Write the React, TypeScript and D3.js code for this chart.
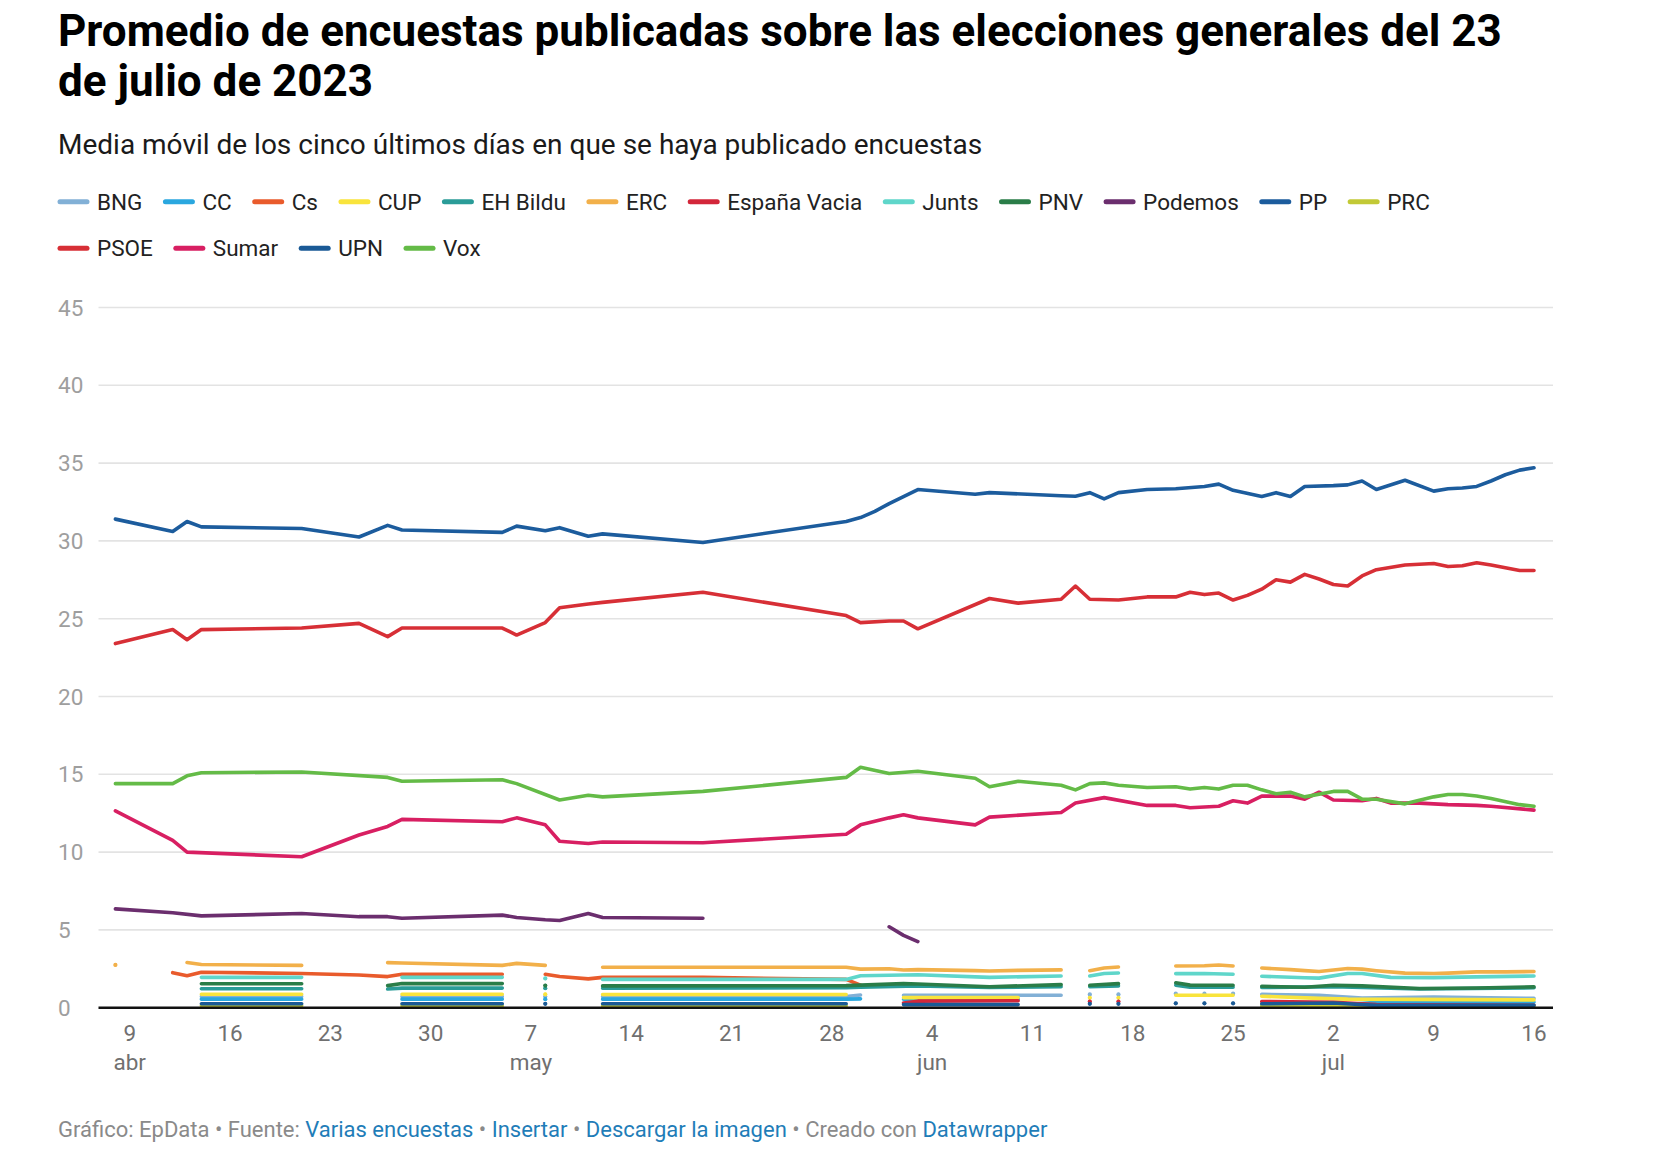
import React, { useEffect, useRef } from 'react';
import * as d3 from 'd3';

const W = 1660;
const H = 1154;

const titleLines = [
  'Promedio de encuestas publicadas sobre las elecciones generales del 23',
  'de julio de 2023',
];
const subtitle = 'Media móvil de los cinco últimos días en que se haya publicado encuestas';

const parties = [
  'BNG', 'CC', 'Cs', 'CUP', 'EH Bildu', 'ERC', 'España Vacia', 'Junts',
  'PNV', 'Podemos', 'PP', 'PRC', 'PSOE', 'Sumar', 'UPN', 'Vox',
];

const partyColors: Record<string, string> = {
  BNG: '#82b0d6',
  CC: '#2aa7df',
  Cs: '#e95b2c',
  CUP: '#f9e43c',
  'EH Bildu': '#2a9c98',
  ERC: '#f2b04a',
  'España Vacia': '#d3263a',
  Junts: '#5fd6ca',
  PNV: '#2a7d48',
  Podemos: '#6b2e6e',
  PP: '#1c5c9d',
  PRC: '#c2c936',
  PSOE: '#d72f36',
  Sumar: '#d81f62',
  UPN: '#1a5a96',
  Vox: '#64bb47',
};

type Pt = [string, number | null];

// values per party, [MM-DD, %], null = hueco
const pp: Pt[] = [
  ['04-08', 31.4], ['04-12', 30.6], ['04-13', 31.25], ['04-14', 30.9], ['04-21', 30.8],
  ['04-25', 30.25], ['04-27', 31.0], ['04-28', 30.7], ['05-05', 30.55], ['05-06', 30.95],
  ['05-08', 30.65], ['05-09', 30.85], ['05-11', 30.3], ['05-12', 30.45], ['05-19', 29.9],
  ['05-29', 31.25], ['05-30', 31.5], ['05-31', 31.9], ['06-01', 32.4], ['06-02', 32.85],
  ['06-03', 33.3], ['06-07', 33.0], ['06-08', 33.1], ['06-13', 32.9], ['06-14', 32.87],
  ['06-15', 33.1], ['06-16', 32.7], ['06-17', 33.1], ['06-19', 33.3], ['06-21', 33.35],
  ['06-23', 33.5], ['06-24', 33.65], ['06-25', 33.25], ['06-27', 32.85], ['06-28', 33.1],
  ['06-29', 32.85], ['06-30', 33.5], ['07-02', 33.55], ['07-03', 33.6], ['07-04', 33.85],
  ['07-05', 33.3], ['07-07', 33.9], ['07-09', 33.2], ['07-10', 33.35], ['07-11', 33.4],
  ['07-12', 33.5], ['07-13', 33.85], ['07-14', 34.25], ['07-15', 34.55], ['07-16', 34.7],
];

const psoe: Pt[] = [
  ['04-08', 23.4], ['04-12', 24.3], ['04-13', 23.65], ['04-14', 24.3], ['04-21', 24.4],
  ['04-25', 24.7], ['04-27', 23.85], ['04-28', 24.4], ['05-05', 24.4], ['05-06', 23.95],
  ['05-08', 24.75], ['05-09', 25.7], ['05-11', 25.95], ['05-12', 26.05], ['05-19', 26.7],
  ['05-29', 25.2], ['05-30', 24.75], ['06-01', 24.85], ['06-02', 24.85], ['06-03', 24.35],
  ['06-08', 26.3], ['06-10', 26.0], ['06-13', 26.25], ['06-14', 27.1], ['06-15', 26.25],
  ['06-17', 26.2], ['06-19', 26.4], ['06-21', 26.4], ['06-22', 26.7], ['06-23', 26.55],
  ['06-24', 26.65], ['06-25', 26.2], ['06-26', 26.5], ['06-27', 26.9], ['06-28', 27.5],
  ['06-29', 27.35], ['06-30', 27.85], ['07-01', 27.55], ['07-02', 27.2], ['07-03', 27.1],
  ['07-04', 27.75], ['07-05', 28.15], ['07-07', 28.45], ['07-09', 28.55], ['07-10', 28.35],
  ['07-11', 28.4], ['07-12', 28.6], ['07-13', 28.45], ['07-15', 28.1], ['07-16', 28.1],
];

const vox: Pt[] = [
  ['04-08', 14.4], ['04-12', 14.4], ['04-13', 14.9], ['04-14', 15.1], ['04-21', 15.15],
  ['04-27', 14.8], ['04-28', 14.55], ['05-05', 14.65], ['05-06', 14.4], ['05-09', 13.35],
  ['05-11', 13.65], ['05-12', 13.55], ['05-19', 13.9], ['05-29', 14.8], ['05-30', 15.45],
  ['06-01', 15.05], ['06-03', 15.2], ['06-07', 14.75], ['06-08', 14.2], ['06-10', 14.55],
  ['06-13', 14.3], ['06-14', 14.0], ['06-15', 14.4], ['06-16', 14.45], ['06-17', 14.3],
  ['06-19', 14.15], ['06-21', 14.2], ['06-22', 14.05], ['06-23', 14.15], ['06-24', 14.05],
  ['06-25', 14.3], ['06-26', 14.3], ['06-27', 14.0], ['06-28', 13.75], ['06-29', 13.85],
  ['06-30', 13.55], ['07-02', 13.9], ['07-03', 13.9], ['07-04', 13.4], ['07-05', 13.4],
  ['07-07', 13.1], ['07-09', 13.55], ['07-10', 13.7], ['07-11', 13.7], ['07-12', 13.6],
  ['07-13', 13.45], ['07-15', 13.05], ['07-16', 12.95],
];

const sumar: Pt[] = [
  ['04-08', 12.65], ['04-12', 10.75], ['04-13', 10.0], ['04-21', 9.7], ['04-25', 11.1],
  ['04-27', 11.65], ['04-28', 12.1], ['05-05', 11.95], ['05-06', 12.2], ['05-08', 11.75],
  ['05-09', 10.7], ['05-11', 10.55], ['05-12', 10.65], ['05-19', 10.6], ['05-29', 11.15],
  ['05-30', 11.75], ['06-01', 12.2], ['06-02', 12.4], ['06-03', 12.2], ['06-07', 11.75],
  ['06-08', 12.25], ['06-13', 12.55], ['06-14', 13.15], ['06-16', 13.5], ['06-19', 13.0],
  ['06-21', 13.0], ['06-22', 12.85], ['06-24', 12.95], ['06-25', 13.3], ['06-26', 13.15],
  ['06-27', 13.6], ['06-29', 13.6], ['06-30', 13.4], ['07-01', 13.85], ['07-02', 13.35],
  ['07-04', 13.3], ['07-05', 13.45], ['07-06', 13.15], ['07-08', 13.15], ['07-10', 13.05],
  ['07-12', 13.0], ['07-13', 12.95], ['07-16', 12.7],
];

const podemos: Pt[] = [
  ['04-08', 6.35], ['04-12', 6.1], ['04-14', 5.9], ['04-21', 6.05], ['04-25', 5.85],
  ['04-27', 5.85], ['04-28', 5.75], ['05-05', 5.95], ['05-06', 5.8], ['05-08', 5.65],
  ['05-09', 5.6], ['05-11', 6.05], ['05-12', 5.8], ['05-19', 5.75], ['05-29', null],
  ['06-01', 5.2], ['06-02', 4.65], ['06-03', 4.25],
];

const erc: Pt[] = [
  ['04-08', 2.75], ['04-12', null], ['04-13', 2.9], ['04-14', 2.78], ['04-21', 2.72],
  ['04-25', null], ['04-27', 2.9], ['04-28', 2.87], ['05-05', 2.72], ['05-06', 2.85],
  ['05-08', 2.72], ['05-09', null], ['05-12', 2.6], ['05-19', 2.6], ['05-29', 2.6],
  ['05-30', 2.48], ['06-01', 2.5], ['06-02', 2.42], ['06-03', 2.45], ['06-07', 2.38],
  ['06-08', 2.36], ['06-10', 2.4], ['06-13', 2.43], ['06-14', null], ['06-15', 2.38],
  ['06-16', 2.55], ['06-17', 2.62], ['06-19', null], ['06-21', 2.68], ['06-23', 2.7],
  ['06-24', 2.74], ['06-25', 2.68], ['06-26', null], ['06-27', 2.55], ['06-29', 2.45],
  ['06-30', 2.38], ['07-01', 2.33], ['07-02', 2.42], ['07-03', 2.52], ['07-04', 2.48],
  ['07-05', 2.38], ['07-07', 2.22], ['07-09', 2.2], ['07-10', 2.22], ['07-12', 2.3],
  ['07-14', 2.3], ['07-16', 2.33],
];

const cs: Pt[] = [
  ['04-12', 2.25], ['04-13', 2.05], ['04-14', 2.28], ['04-21', 2.2], ['04-25', 2.1],
  ['04-27', 2.0], ['04-28', 2.15], ['05-05', 2.15], ['05-06', null], ['05-08', 2.15],
  ['05-09', 2.0], ['05-11', 1.85], ['05-12', 1.95], ['05-19', 1.95], ['05-29', 1.82],
  ['05-30', 1.45],
];

const junts: Pt[] = [
  ['04-14', 1.95], ['04-21', 1.95], ['04-27', null], ['04-28', 1.95], ['05-05', 1.95],
  ['05-06', null], ['05-08', 1.88], ['05-09', null], ['05-12', 1.82], ['05-29', 1.82],
  ['05-30', 2.05], ['06-03', 2.12], ['06-08', 1.95], ['06-13', 2.04], ['06-14', null],
  ['06-15', 2.04], ['06-16', 2.2], ['06-17', 2.23], ['06-19', null], ['06-21', 2.19],
  ['06-23', 2.2], ['06-25', 2.15], ['06-26', null], ['06-27', 2.02], ['06-30', 1.92],
  ['07-01', 1.9], ['07-03', 2.2], ['07-04', 2.2], ['07-06', 1.95], ['07-09', 1.93],
  ['07-12', 1.98], ['07-16', 2.04],
];

const pnv: Pt[] = [
  ['04-14', 1.54], ['04-21', 1.54], ['04-25', null], ['04-27', 1.42], ['04-28', 1.55],
  ['05-05', 1.55], ['05-06', null], ['05-08', 1.42], ['05-09', null], ['05-12', 1.4],
  ['05-29', 1.42], ['05-30', 1.45], ['06-02', 1.55], ['06-03', 1.52], ['06-08', 1.35],
  ['06-13', 1.48], ['06-14', null], ['06-15', 1.44], ['06-17', 1.55], ['06-19', null],
  ['06-21', 1.6], ['06-22', 1.45], ['06-25', 1.44], ['06-26', null], ['06-27', 1.38],
  ['06-30', 1.31], ['07-02', 1.44], ['07-04', 1.4], ['07-08', 1.23], ['07-12', 1.27],
  ['07-16', 1.34],
];

const ehBildu: Pt[] = [
  ['04-14', 1.22], ['04-21', 1.22], ['04-25', null], ['04-27', 1.2], ['04-28', 1.26],
  ['05-05', 1.26], ['05-06', null], ['05-08', 1.25], ['05-09', null], ['05-12', 1.25],
  ['05-29', 1.28], ['05-30', 1.32], ['06-03', 1.4], ['06-08', 1.3], ['06-13', 1.35],
  ['06-14', null], ['06-15', 1.35], ['06-17', 1.4], ['06-19', null], ['06-21', 1.45],
  ['06-22', 1.32], ['06-25', 1.32], ['06-26', null], ['06-27', 1.3], ['07-02', 1.35],
  ['07-08', 1.2], ['07-16', 1.28],
];

const cup: Pt[] = [
  ['04-14', 0.86], ['04-21', 0.86], ['04-25', null], ['04-28', 0.86], ['05-05', 0.86],
  ['05-06', null], ['05-08', 0.86], ['05-09', null], ['05-12', 0.85], ['05-29', 0.85],
  ['05-30', null], ['06-02', 0.65], ['06-10', 0.65], ['06-13', null], ['06-15', 0.64],
  ['06-16', null], ['06-17', 0.64], ['06-19', null], ['06-21', 0.8], ['06-25', 0.8],
  ['06-26', null], ['06-27', 0.74], ['07-01', 0.6], ['07-03', 0.55], ['07-16', 0.5],
];

const bng: Pt[] = [
  ['04-14', 0.72], ['04-21', 0.72], ['04-25', null], ['04-28', 0.72], ['05-05', 0.72],
  ['05-06', null], ['05-08', 0.72], ['05-09', null], ['05-12', 0.72], ['05-29', 0.72],
  ['05-30', 0.82], ['05-31', null], ['06-02', 0.8], ['06-13', 0.8], ['06-14', null],
  ['06-15', 0.85], ['06-16', null], ['06-17', 0.85], ['06-19', null], ['06-21', 0.9],
  ['06-22', null], ['06-23', 0.9], ['06-24', null], ['06-25', 0.9], ['06-26', null],
  ['06-27', 0.86], ['07-01', 0.8], ['07-04', 0.62], ['07-09', 0.68], ['07-16', 0.6],
];

const cc: Pt[] = [
  ['04-14', 0.55], ['04-21', 0.55], ['04-25', null], ['04-28', 0.55], ['05-05', 0.55],
  ['05-06', null], ['05-08', 0.55], ['05-09', null], ['05-12', 0.55], ['05-29', 0.55],
  ['05-30', 0.57], ['05-31', null], ['06-02', 0.55], ['06-10', 0.55], ['06-13', null],
  ['06-27', 0.15], ['07-03', 0.2], ['07-05', 0.35], ['07-16', 0.35],
];

const espanaVacia: Pt[] = [
  ['06-02', 0.3], ['06-03', 0.42], ['06-10', 0.45], ['06-13', null], ['06-15', 0.4],
  ['06-16', null], ['06-17', 0.4], ['06-19', null], ['06-27', 0.4], ['07-02', 0.35],
  ['07-05', 0.2], ['07-16', 0.15],
];

const upn: Pt[] = [
  ['04-14', 0.25], ['04-21', 0.25], ['04-25', null], ['04-28', 0.25], ['05-05', 0.25],
  ['05-06', null], ['05-08', 0.25], ['05-09', null], ['05-12', 0.25], ['05-29', 0.25],
  ['05-30', null], ['06-02', 0.2], ['06-10', 0.2], ['06-13', null], ['06-15', 0.25],
  ['06-16', null], ['06-17', 0.25], ['06-19', null], ['06-21', 0.28], ['06-22', null],
  ['06-23', 0.28], ['06-24', null], ['06-25', 0.28], ['06-26', null], ['06-27', 0.25],
  ['07-02', 0.3], ['07-05', 0.15], ['07-16', 0.15],
];

const prc: Pt[] = [
  ['04-14', 0.12], ['04-21', 0.12], ['04-25', null], ['04-28', 0.12], ['05-05', 0.12],
  ['05-06', null], ['05-12', 0.12], ['05-29', 0.12], ['05-30', null], ['06-27', 0.1],
  ['07-16', 0.1],
];

const seriesByParty: Record<string, Pt[]> = {
  BNG: bng, CC: cc, Cs: cs, CUP: cup, 'EH Bildu': ehBildu, ERC: erc,
  'España Vacia': espanaVacia, Junts: junts, PNV: pnv, Podemos: podemos, PP: pp,
  PRC: prc, PSOE: psoe, Sumar: sumar, UPN: upn, Vox: vox,
};

const yTicks = [0, 5, 10, 15, 20, 25, 30, 35, 40, 45];
const xTicks = ['04-09', '04-16', '04-23', '04-30', '05-07', '05-14', '05-21', '05-28',
  '06-04', '06-11', '06-18', '06-25', '07-02', '07-09', '07-16'];
const monthTicks: [string, string][] = [['04-09', 'abr'], ['05-07', 'may'], ['06-04', 'jun'], ['07-02', 'jul']];

const footer: [string, boolean][] = [
  ['Gráfico: EpData • Fuente: ', false],
  ['Varias encuestas', true],
  [' • ', false],
  ['Insertar', true],
  [' • ', false],
  ['Descargar la imagen', true],
  [' • Creado con ', false],
  ['Datawrapper', true],
];

const parseDay = d3.timeParse('%Y-%m-%d');
const dt = (s: string) => parseDay('2023-' + s) as Date;

const App: React.FC = () => {
  const svgRef = useRef<SVGSVGElement>(null);

  useEffect(() => {
    if (!svgRef.current) return;
    const svg = d3.select(svgRef.current);
    svg.selectAll('*').remove();
    const font = 'Roboto, "Open Sans", sans-serif';

    // header
    svg.append('g').selectAll('text')
      .data(titleLines)
      .enter().append('text')
      .attr('x', 58)
      .attr('y', (_d, i) => 45.5 + i * 50.5)
      .attr('font-family', font)
      .attr('font-weight', 700)
      .attr('font-size', 44)
      .attr('fill', '#000')
      .text(d => d);

    svg.append('text')
      .attr('x', 58)
      .attr('y', 154)
      .attr('font-family', font)
      .attr('font-size', 28)
      .attr('fill', '#1a1a1a')
      .text(subtitle);

    // legend
    const legend = svg.append('g');
    let lx = 58;
    let row = 0;
    parties.forEach((p, i) => {
      if (i === 12) { lx = 58; row = 1; }
      const cy = 201.7 + row * 46.6;
      legend.append('line')
        .attr('x1', lx + 2).attr('x2', lx + 29)
        .attr('y1', cy).attr('y2', cy)
        .attr('stroke', partyColors[p])
        .attr('stroke-width', 5)
        .attr('stroke-linecap', 'round');
      const t = legend.append('text')
        .attr('x', lx + 39)
        .attr('y', cy + 8)
        .attr('font-family', font)
        .attr('font-size', 22.5)
        .attr('fill', '#222')
        .text(p);
      const tw = (t.node() as SVGTextElement).getComputedTextLength();
      lx = lx + 39 + tw + 21;
    });

    // scales
    const x = d3.scaleTime()
      .domain([dt('04-08'), dt('07-16')])
      .range([115.4, 1534]);
    const y = d3.scaleLinear().domain([0, 45]).range([1007.7, 307.5]);
    const gridX0 = 98.5;
    const gridX1 = 1553;

    const grid = svg.append('g');
    grid.selectAll('line')
      .data(yTicks.filter(t => t > 0))
      .enter().append('line')
      .attr('x1', gridX0).attr('x2', gridX1)
      .attr('y1', d => y(d)).attr('y2', d => y(d))
      .attr('stroke', '#e3e3e3')
      .attr('stroke-width', 1.6);

    grid.selectAll('text')
      .data(yTicks)
      .enter().append('text')
      .attr('x', 58)
      .attr('y', d => y(d) + 8)
      .attr('font-family', font)
      .attr('font-size', 22.5)
      .attr('fill', '#9e9e9e')
      .text(d => d);

    const xa = svg.append('g');
    xa.selectAll('text.day')
      .data(xTicks)
      .enter().append('text')
      .attr('class', 'day')
      .attr('x', d => x(dt(d)))
      .attr('y', 1041)
      .attr('text-anchor', 'middle')
      .attr('font-family', font)
      .attr('font-size', 22.5)
      .attr('fill', '#707070')
      .text(d => String(+d.slice(3)));
    xa.selectAll('text.month')
      .data(monthTicks)
      .enter().append('text')
      .attr('class', 'month')
      .attr('x', d => x(dt(d[0])))
      .attr('y', 1070)
      .attr('text-anchor', 'middle')
      .attr('font-family', font)
      .attr('font-size', 22.5)
      .attr('fill', '#707070')
      .text(d => d[1]);

    // lines
    const line = d3.line<Pt>()
      .defined(d => d[1] != null)
      .x(d => x(dt(d[0])))
      .y(d => y(d[1] as number));

    const lines = svg.append('g');
    parties.forEach(p => {
      const s = seriesByParty[p];
      lines.append('path')
        .attr('d', line(s))
        .attr('fill', 'none')
        .attr('stroke', partyColors[p])
        .attr('stroke-width', 3.6)
        .attr('stroke-linejoin', 'round')
        .attr('stroke-linecap', 'round');
      // single points between gaps show as dots
      const lone = s.filter((d, i) => d[1] != null
        && (i === 0 || s[i - 1][1] == null)
        && (i === s.length - 1 || s[i + 1][1] == null));
      lines.selectAll(null)
        .data(lone)
        .enter().append('circle')
        .attr('cx', d => x(dt(d[0])))
        .attr('cy', d => y(d[1] as number))
        .attr('r', 2.1)
        .attr('fill', partyColors[p]);
    });

    // baseline
    svg.append('line')
      .attr('x1', gridX0).attr('x2', gridX1)
      .attr('y1', y(0)).attr('y2', y(0))
      .attr('stroke', '#111')
      .attr('stroke-width', 2.4);

    // footer
    const ft = svg.append('text')
      .attr('x', 58)
      .attr('y', 1137)
      .attr('font-family', font)
      .attr('font-size', 22);
    footer.forEach(([s, link]) => {
      ft.append('tspan')
        .attr('fill', link ? '#1f7db8' : '#8a8a8a')
        .text(s);
    });
  }, []);

  return (
    <svg
      ref={svgRef}
      width={W}
      height={H}
      viewBox={`0 0 ${W} ${H}`}
      style={{ position: 'absolute', left: 0, top: 0, background: '#fff' }}
    />
  );
};

export default App;
